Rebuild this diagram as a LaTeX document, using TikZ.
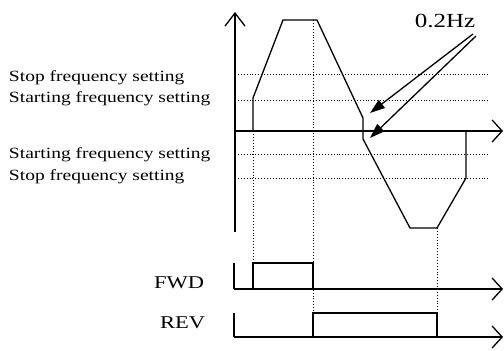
\documentclass[tikz,border=0pt]{standalone}
\usepackage{fontspec}
\setmainfont{Liberation Serif}[FakeStretch=1.25]
\usetikzlibrary{arrows.meta}

\begin{document}
\begin{tikzpicture}[
    x=1pt, y=-1pt,
    every node/.style={inner sep=0pt, outer sep=0pt},
    setlabel/.style={font=\fontsize{15.6}{15.6}\selectfont, anchor=west},
    siglabel/.style={font=\fontsize{18}{18}\selectfont, anchor=east},
    axis/.style={line width=1.3pt, -{Straight Barb[length=10pt, width=22pt]}},
    curve/.style={line width=1.3pt, line join=miter},
    guide/.style={line width=0.9pt, dotted},
    hzarrow/.style={line width=1.3pt, -{Triangle[length=15pt, width=10pt]}}
]
\useasboundingbox (0,0) rectangle (504,351);

% Frequency axes
\coordinate (origin) at (235,131);
\coordinate (ytop) at (235,12);
\coordinate (ybot) at (235,232);
\coordinate (xend) at (503,131);
\draw[axis, -{Straight Barb[length=13pt, width=20pt]}] (ybot) -- (ytop);
\draw[axis] (origin) -- (xend);

% Frequency levels
\foreach \lev in {74,100,154,178}
    \draw[guide] (235,\lev) -- (488,\lev);
\node[setlabel] (stoppos) at (9,78) {Stop frequency setting};
\node[setlabel] (startpos) at (9,99) {Starting frequency setting};
\node[setlabel] (startneg) at (9,155) {Starting frequency setting};
\node[setlabel] (stopneg) at (9,177) {Stop frequency setting};

% Output frequency
\draw[curve] (253,131) -- (253,98) -- (283,20) -- (317,20) -- (363,118)
    -- (363,139) -- (410,228) -- (437,228) -- (466,178) -- (466,131);

% 0.2Hz markers
\node[font=\fontsize{20}{20}\selectfont] (hz) at (445,21) {0.2Hz};
\coordinate (jumptop) at (370,113);
\coordinate (jumpbot) at (370,138);
\draw[hzarrow] (473,34) -- (jumptop);
\draw[hzarrow] (476,36) -- (jumpbot);

% Timing guides
\draw[guide] (253,131) -- (253,263);
\draw[guide] (313,20) -- (313,313);
\draw[guide] (437,228) -- (437,313);

% FWD signal
\node[siglabel] (fwd) at (204,283) {FWD};
\draw[line width=1.3pt] (234,263) -- (234,289);
\draw[axis] (234,289) -- (503,289);
\draw[curve] (253,289) -- (253,263) -- (313,263) -- (313,289);

% REV signal
\node[siglabel] (rev) at (205,323) {REV};
\draw[line width=1.3pt] (234,313) -- (234,337);
\draw[axis] (234,337) -- (503,337);
\draw[curve] (313,337) -- (313,313) -- (437,313) -- (437,337);

\end{tikzpicture}
\end{document}
